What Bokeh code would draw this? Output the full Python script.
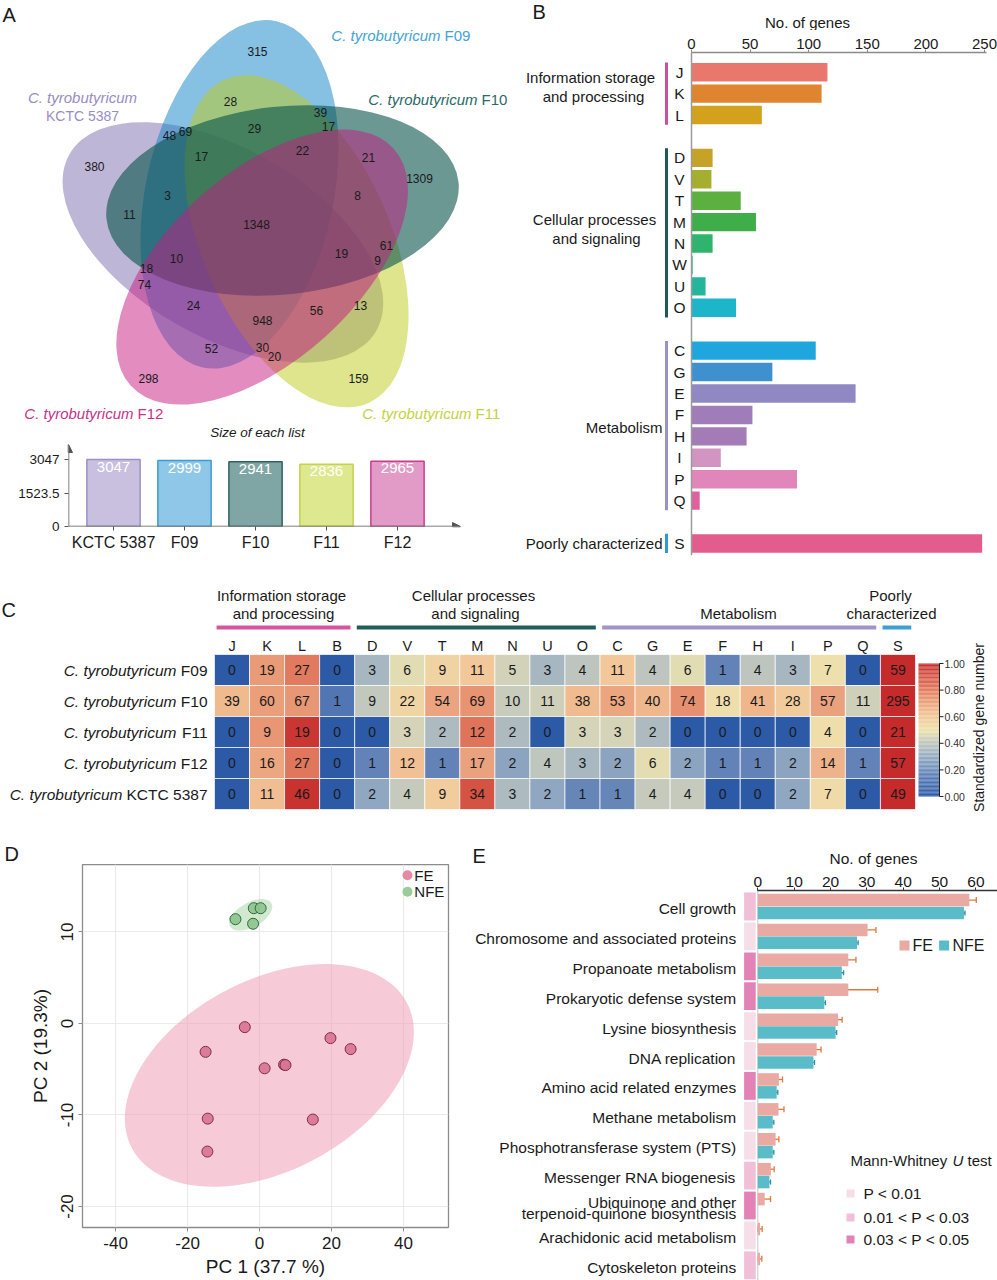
import numpy as np
from bokeh.plotting import figure
from bokeh.models import (Range1d, FixedTicker, ColumnDataSource, Whisker,
                          TeeHead, Arrow, NormalHead, LinearColorMapper)
from bokeh.layouts import column, row
from bokeh.core.properties import value
from bokeh.embed import file_html
from bokeh.resources import INLINE

FONT = "Liberation Sans"
F = value(FONT)
TXT = "#1a1a1a"

# ======================= DATA =======================
# A: Venn diagram region counts
venn_counts = [315, 28, 39, 17, 48, 69, 29, 17, 22, 21, 380, 1309, 3, 8, 11, 1348,
               61, 19, 9, 10, 18, 74, 24, 56, 13, 948, 52, 30, 20, 298, 159]
venn_sets = ["F10", "F11", "F12", "KCTC 5387", "F09"]
list_names = ["KCTC 5387", "F09", "F10", "F11", "F12"]
list_sizes = [3047, 2999, 2941, 2836, 2965]

# B: COG categories
cog_letters = ["J", "K", "L", "D", "V", "T", "M", "N", "W", "U", "O",
               "C", "G", "E", "F", "H", "I", "P", "Q", "S"]
cog_group_of = ["info"] * 3 + ["cell"] * 8 + ["met"] * 8 + ["poor"]
cog_counts = [116, 111, 60, 18, 17, 42, 55, 18, 1, 12, 38,
              106, 69, 140, 52, 47, 25, 90, 7, 248]

# C: heatmap
heat_cols = ["J", "K", "L", "B", "D", "V", "T", "M", "N", "U", "O",
             "C", "G", "E", "F", "H", "I", "P", "Q", "S"]
heat_col_group = ["info"] * 4 + ["cell"] * 7 + ["met"] * 8 + ["poor"]
heat_strains = ["F09", "F10", "F11", "F12", "KCTC 5387"]
heat_F09 = [0, 19, 27, 0, 3, 6, 9, 11, 5, 3, 4, 11, 4, 6, 1, 4, 3, 7, 0, 59]
heat_F10 = [39, 60, 67, 1, 9, 22, 54, 69, 10, 11, 38, 53, 40, 74, 18, 41, 28, 57, 11, 295]
heat_F11 = [0, 9, 19, 0, 0, 3, 2, 12, 2, 0, 3, 3, 2, 0, 0, 0, 0, 4, 0, 21]
heat_F12 = [0, 16, 27, 0, 1, 12, 1, 17, 2, 4, 3, 2, 6, 2, 1, 1, 2, 14, 1, 57]
heat_KCTC = [0, 11, 46, 0, 2, 4, 9, 34, 3, 2, 1, 1, 4, 4, 0, 0, 2, 7, 0, 49]

# D: PCA
pca_fe_pc1 = [-4.1, -15.0, 1.4, 6.8, 7.2, 19.7, 25.3, -14.4, -14.5, 14.8]
pca_fe_pc2 = [-0.4, -3.1, -4.9, -4.5, -4.55, -1.6, -2.8, -10.4, -14.0, -10.5]
pca_nfe_pc1 = [-6.7, -1.6, 0.3, -1.8]
pca_nfe_pc2 = [11.4, 12.6, 12.6, 10.9]
pca_xticks = [-40, -20, 0, 20, 40]
pca_yticks = [-20, -10, 0, 10]

# E: pathways
path_names = ["Cell growth", "Chromosome and associated proteins", "Propanoate metabolism",
              "Prokaryotic defense system", "Lysine biosynthesis", "DNA replication",
              "Amino acid related enzymes", "Methane metabolism",
              "Phosphotransferase system (PTS)", "Messenger RNA biogenesis",
              "Ubiquinone and other\nterpenoid-quinone biosynthesis",
              "Arachidonic acid metabolism", "Cytoskeleton proteins"]
path_fe = [58.2, 30.2, 24.9, 24.9, 22.1, 16.2, 5.8, 5.7, 4.9, 3.6, 1.9, 0.6, 0.6]
path_fe_err = [1.9, 2.3, 2.1, 8.1, 1.1, 1.2, 1.0, 1.5, 0.9, 0.9, 1.6, 0.6, 0.5]
path_nfe = [56.7, 27.3, 23.1, 18.3, 21.4, 15.3, 5.2, 4.1, 4.1, 3.2, 0.0, 0.0, 0.0]
path_nfe_err = [0.3, 0.3, 0.5, 0.3, 0.3, 0.3, 0.3, 0.3, 0.3, 0.3, 0.0, 0.0, 0.0]
path_sig = [2, 1, 3, 3, 1, 1, 3, 1, 1, 2, 3, 1, 2]
sig_labels = ["P < 0.01", "0.01 < P < 0.03", "0.03 < P < 0.05"]


def base_fig(w, h, xr, yr, **kw):
    p = figure(width=w, height=h, x_range=xr, y_range=yr, output_backend="svg",
               toolbar_location=None, **kw)
    p.grid.visible = False
    p.outline_line_color = None
    p.background_fill_color = "white"
    p.border_fill_color = "white"
    return p


def pix_fig(w, h):
    """glyph-only strip whose data units are pixels (y downward)"""
    return base_fig(w, h, Range1d(0, w), Range1d(h, 0), x_axis_location=None,
                    y_axis_location=None, min_border=0)


def style_axis(ax, size):
    ax.major_label_text_font = FONT
    ax.major_label_text_font_size = size
    ax.major_label_text_color = TXT
    ax.minor_tick_line_color = None
    ax.major_tick_in = 0
    ax.major_tick_out = 4


def put(fig, x, y, t, size, align="left", style="normal", color=TXT, baseline="middle",
        angle=0.0):
    fig.text(x=[x], y=[y], text=[t], text_align=align, text_baseline=baseline,
             text_font=F, text_font_size=size, text_font_style=style, text_color=color,
             angle=angle)


# ======================= PANEL A: VENN =======================
VW, VH = 510, 442
venn = base_fig(VW, VH, Range1d(0, VW), Range1d(0, VH),
                x_axis_location=None, y_axis_location=None, min_border=0)


def vy(y):
    return VH - y


vc_x, vc_y, v_r, v_a, v_b = 261.0, 230.0, 36.6, 177.0, 94.0
venn_fill = {"F10": "#08534B", "F11": "#BDCB19", "F12": "#C51A82",
             "KCTC 5387": "#7D6DAD", "F09": "#0D81C5"}
venn_alpha = {"F10": 0.6, "F11": 0.5, "F12": 0.5, "KCTC 5387": 0.5, "F09": 0.5}
venn_nudge = {"F10": (0, 0), "F11": (0, 0), "F12": (0, 0), "KCTC 5387": (-4, 0),
              "F09": (0, -7)}
ex, ey, ea, ec, eal = [], [], [], [], []
for i, name in enumerate(venn_sets):
    phi = np.radians(55 - 72 * i)
    th = np.radians(6 - 72 * i)
    ex.append(vc_x + v_r * np.cos(phi) + venn_nudge[name][0])
    ey.append(vy(vc_y - v_r * np.sin(phi) + venn_nudge[name][1]))
    ea.append(th)
    ec.append(venn_fill[name])
    eal.append(venn_alpha[name])
order = [3, 4, 1, 0, 2]   # KCTC, F09, F11, F10, F12 (bottom to top)
venn.ellipse(x=[ex[i] for i in order], y=[ey[i] for i in order],
             width=2 * v_a, height=2 * v_b, angle=[ea[i] for i in order],
             fill_color=[ec[i] for i in order], fill_alpha=[eal[i] for i in order],
             line_color=None)

venn_pos = [(257, 51), (230, 101), (320, 112), (328, 126), (169, 135), (185, 131), (254, 128),
            (201, 156), (302, 150), (368, 157), (94, 166), (419, 178), (167, 195), (357, 195),
            (129, 214), (256, 224), (386, 245), (341, 253), (377, 260), (176, 258), (146, 268),
            (144, 284), (193, 305), (316, 310), (360, 305), (262, 320), (211, 348), (262, 347),
            (274, 356), (148, 378), (358, 378)]
venn.text(x=[p[0] for p in venn_pos], y=[vy(p[1]) for p in venn_pos],
          text=[str(c) for c in venn_counts], text_align="center", text_baseline="middle",
          text_font=F, text_font_size="12px", text_color=TXT)


def two_part(fig, xs, y, prefix, suffix, color, size, gap):
    put(fig, xs, y, prefix, size, align="right", style="italic", color=color)
    put(fig, xs + gap, y, suffix, size, align="left", color=color)


two_part(venn, 440, vy(35), "C. tyrobutyricum", "F09", "#45A3D5", "15px", 4)
two_part(venn, 477, vy(99), "C. tyrobutyricum", "F10", "#2B6A66", "15px", 4)
two_part(venn, 133, vy(413), "C. tyrobutyricum", "F12", "#C7338A", "15px", 4)
two_part(venn, 471, vy(413), "C. tyrobutyricum", "F11", "#C5D23C", "15px", 4)
put(venn, 82, vy(97), "C. tyrobutyricum", "15px", align="center", style="italic",
    color="#998DC4")
put(venn, 82, vy(115), "KCTC 5387", "14px", align="center", color="#998DC4")
put(venn, 2, vy(14), "A", "20px")
put(venn, 257, vy(432), "Size of each list", "13.5px", align="center", style="italic")

# ======================= PANEL A: LIST SIZES =======================
BW, BH = 510, 580 - VH
b_ml, b_mr, b_mt, b_mb = 68, 40, 0, 54
b_step = 71.0
b_first = 113 - 68
bxr = Range1d(-b_first / b_step, (BW - b_ml - b_mr - b_first) / b_step)
b_ppu = 67.0 / 3047.0
byr = Range1d(0, (BH - b_mt - b_mb) / b_ppu)
bars = base_fig(BW, BH, bxr, byr, min_border_left=b_ml, min_border_right=b_mr,
                min_border_top=b_mt, min_border_bottom=b_mb)
bar_fill = ["#C9C0DF", "#8FC7E8", "#7FA6A5", "#DEE88F", "#E29BC7"]
bar_line = ["#9B90C6", "#3C9BD1", "#2F6360", "#C5D24B", "#C83D8E"]
bx = list(range(len(list_sizes)))
bars.vbar(x=bx, top=list_sizes, width=0.75, fill_color=bar_fill, line_color=bar_line,
          line_width=1.5)
bars.text(x=bx, y=list_sizes, text=[str(v) for v in list_sizes], text_align="center",
          text_baseline="top", y_offset=2, text_font=F, text_font_size="15px",
          text_color="white")
style_axis(bars.xaxis[0], "16px")
style_axis(bars.yaxis[0], "13.5px")
bars.xaxis.ticker = FixedTicker(ticks=bx)
bars.xaxis.major_label_overrides = {i: n for i, n in enumerate(list_names)}
bars.yaxis.ticker = FixedTicker(ticks=[0, 1523.5, 3047])
bars.xaxis.axis_line_color = None
bars.yaxis.axis_line_color = None
bars.xaxis.major_tick_line_color = "#555555"
bars.yaxis.major_tick_line_color = "#555555"
bars.xaxis.major_label_standoff = 3
ax_col = "#555555"
bars.add_layout(Arrow(end=NormalHead(size=8, fill_color=ax_col, line_color=ax_col),
                      x_start=bxr.start, y_start=0, x_end=bxr.start + 392 / b_step, y_end=0,
                      line_color=ax_col, line_width=1.5))
bars.add_layout(Arrow(end=NormalHead(size=8, fill_color=ax_col, line_color=ax_col),
                      x_start=bxr.start, y_start=0, x_end=bxr.start, y_end=byr.end - 2 / b_ppu,
                      line_color=ax_col, line_width=1.5))

# ======================= PANEL B =======================
PBW = 487
kB, x0B = 1.172, 181.0
slot0B, slotB = 71.7, 21.42
B_top_ref, B_hdr = 52, 30


def dxB(px):
    return (px - x0B) / kB


def dyB(py):
    return (py - slot0B) / slotB


pBh = pix_fig(PBW, B_hdr)
put(pBh, 22, 11, "B", "20px")
put(pBh, 297, 22, "No. of genes", "15px", align="center")

pB = base_fig(PBW, 580 - B_hdr, Range1d(dxB(0), dxB(PBW)), Range1d(dyB(580), dyB(B_top_ref)),
              x_axis_location="above", y_axis_location=None,
              min_border_top=B_top_ref - B_hdr, min_border_left=0, min_border_right=0,
              min_border_bottom=0)
slots = []
s, prev = 0, None
for g in cog_group_of:
    if prev is not None and g != prev:
        s += 1
    slots.append(s)
    s += 1
    prev = g
cog_colors = ["#E9776C", "#E0852F", "#D3A11C", "#C5A326", "#A5AE2F", "#5CB040", "#3FAE4A",
              "#2EB46C", "#29B594", "#25B59C", "#1DB5C9", "#20A6DF", "#3E90CF", "#8F88C2",
              "#A07DB8", "#A37BB6", "#D294C1", "#E086BB", "#E0619F", "#E35C8E"]
pB.hbar(y=slots, left=0, right=cog_counts, height=0.86, fill_color=cog_colors, line_color=None)
pB.segment(x0=[0], y0=[-0.93], x1=[0], y1=[22.55], line_color="#9A9A9A", line_width=1.5)
style_axis(pB.xaxis[0], "15px")
pB.xaxis.ticker = FixedTicker(ticks=[0, 50, 100, 150, 200, 250])
pB.xaxis.bounds = (0, 252)
pB.xaxis.axis_line_color = "#8A8A8A"
pB.xaxis.axis_line_width = 1.5
pB.xaxis.major_tick_line_color = "#8A8A8A"
pB.xaxis.major_tick_out = 3
pB.xaxis.major_label_standoff = 1
pB.text(x=[dxB(169)] * len(slots), y=slots, text=cog_letters, text_align="center",
        text_baseline="middle", text_font=F, text_font_size="15.5px", text_color=TXT)
grp_col_B = {"info": "#C8509E", "cell": "#1D5C56", "met": "#9A91C6", "poor": "#2D9AD2"}
for g in ["info", "cell", "met", "poor"]:
    ss = [slots[i] for i in range(len(slots)) if cog_group_of[i] == g]
    pB.segment(x0=[dxB(156)], y0=[min(ss) - 0.45], x1=[dxB(156)], y1=[max(ss) + 0.45],
               line_color=grp_col_B[g], line_width=3)
glab = [("Information storage", 80, 0.25, "center"), ("and processing", 83, 1.14, "center"),
        ("Cellular processes", 84, 6.88, "center"), ("and signaling", 86, 7.76, "center"),
        ("Metabolism", 152, 16.58, "right"), ("Poorly characterized", 152, 22.0, "right")]
for t, px, sl, al in glab:
    put(pB, dxB(px), sl, t, "15px", align=al)

# ======================= PANEL C: HEATMAP =======================
PCW, PCH = 997, 260


def dxC(px):
    return (px - 231.5) / 35.05


def dyC(py):
    return (py - 89.5) / 31.0


pC = base_fig(PCW, PCH, Range1d(dxC(0), dxC(PCW)), Range1d(dyC(PCH), dyC(0)),
              x_axis_location=None, y_axis_location=None, min_border=0)

anchors = [(0.0, "#2C5AA6"), (0.15, "#5B7DB6"), (0.30, "#98AEC3"), (0.42, "#C8CCBD"),
           (0.50, "#EEE3AE"), (0.62, "#F2C497"), (0.78, "#E5896A"), (0.90, "#D75746"),
           (1.0, "#C52B2B")]


def _rgb(h):
    return np.array([int(h[i:i + 2], 16) for i in (1, 3, 5)], dtype=float)


def _interp(v):
    for (v0, c0), (v1, c1) in zip(anchors[:-1], anchors[1:]):
        if v <= v1:
            t = (v - v0) / (v1 - v0)
            c = _rgb(c0) * (1 - t) + _rgb(c1) * t
            return "#%02x%02x%02x" % tuple(int(round(x)) for x in c)
    return anchors[-1][1]


palette = [_interp(i / 255) for i in range(256)]
mapper = LinearColorMapper(palette=palette, low=0, high=1)

heat_rows = [heat_F09, heat_F10, heat_F11, heat_F12, heat_KCTC]
hx, hy, ht, hs = [], [], [], []
for r, vals in enumerate(heat_rows):
    m = np.log1p(max(vals))
    for i, v in enumerate(vals):
        hx.append(i)
        hy.append(r)
        ht.append(str(v))
        hs.append(float(np.log1p(v) / m))
srcC = ColumnDataSource(dict(x=hx, y=hy, t=ht, s=hs))
pC.rect(x="x", y="y", width=1, height=1, source=srcC,
        fill_color={"field": "s", "transform": mapper}, line_color="white", line_width=1,
        line_alpha=0.7)
pC.text(x="x", y="y", text="t", source=srcC, text_align="center", text_baseline="middle",
        text_font=F, text_font_size="14px", text_color=TXT)
pC.text(x=list(range(len(heat_cols))), y=[dyC(65)] * len(heat_cols), text=heat_cols,
        text_align="center", text_baseline="middle", text_font=F, text_font_size="14.5px",
        text_color=TXT)
grp_col_C = {"info": "#D9559B", "cell": "#1F5E5B", "met": "#A093CB", "poor": "#3CA0D6"}
for g in ["info", "cell", "met", "poor"]:
    cc = [i for i in range(len(heat_cols)) if heat_col_group[i] == g]
    pC.segment(x0=[min(cc) - 0.44], y0=[dyC(47)], x1=[max(cc) + 0.38], y1=[dyC(47)],
               line_color=grp_col_C[g], line_width=4)
hdr = [("Information storage", 281, 15), ("and processing", 283, 33),
       ("Cellular processes", 473, 15), ("and signaling", 475, 33),
       ("Metabolism", 738, 33), ("Poorly", 890, 15), ("characterized", 891, 33)]
for t, px, py in hdr:
    put(pC, dxC(px), dyC(py), t, "15px", align="center")
suffix_w = {"F09": 31, "F10": 31, "F11": 31, "F12": 31, "KCTC 5387": 85}
for r, sname in enumerate(heat_strains):
    put(pC, dxC(207), r, sname, "15.5px", align="right")
    pC.text(x=[dxC(207)], y=[r], text=["C. tyrobutyricum"], text_align="right",
            text_baseline="middle", x_offset=-suffix_w[sname], text_font=F,
            text_font_size="15.5px", text_font_style="italic", text_color=TXT)
# colour bar
cb_x0, cb_x1 = dxC(918), dxC(939)
cb_y0, cb_y1 = dyC(216), dyC(83)
steps = np.linspace(0, 1, 101)
cb_v = ((steps[:-1] + steps[1:]) / 2).tolist()
cbsrc = ColumnDataSource(dict(
    v=cb_v,
    b=[cb_y0 + (cb_y1 - cb_y0) * a for a in steps[:-1]],
    t=[cb_y0 + (cb_y1 - cb_y0) * a for a in steps[1:]]))
pC.quad(left=cb_x0, right=cb_x1, bottom="b", top="t", source=cbsrc,
        fill_color={"field": "v", "transform": mapper}, line_color=None)
pC.segment(x0=[cb_x1], y0=[cb_y0], x1=[cb_x1], y1=[cb_y1], line_color="#222222", line_width=1)
cb_ticks = [0.0, 0.2, 0.4, 0.6, 0.8, 1.0]
cb_ty = [cb_y0 + (cb_y1 - cb_y0) * v for v in cb_ticks]
pC.segment(x0=[cb_x1] * 6, y0=cb_ty, x1=[cb_x1 + 4 / 35.05] * 6, y1=cb_ty,
           line_color="#222222", line_width=1)
pC.text(x=[cb_x1 + 5 / 35.05] * 6, y=cb_ty, text=["%.2f" % v for v in cb_ticks],
        text_align="left", text_baseline="middle", text_font=F, text_font_size="10.5px",
        text_color="#333333")
put(pC, dxC(978), dyC(147), "Standardized gene number", "14px", align="center",
    angle=np.pi / 2)
put(pC, dxC(1), dyC(29), "C", "20px")

# ======================= PANEL D: PCA =======================
PDW, D_hdr = 460, 24
pDh = pix_fig(PDW, D_hdr)
put(pDh, 4, 13, "D", "20px")

d_top_px = 840 + D_hdr
pD = figure(width=PDW, height=1280 - d_top_px,
            x_range=Range1d(-49.2, 52.5),
            y_range=Range1d(-22.3, (1023 - d_top_px) / 9.15),
            output_backend="svg", toolbar_location=None, min_border_left=82,
            min_border_right=12, min_border_top=0, min_border_bottom=53)
pD.background_fill_color = "white"
pD.border_fill_color = "white"
pD.outline_line_color = "#8C8C8C"
pD.outline_line_width = 1.3
pD.xgrid.ticker = FixedTicker(ticks=pca_xticks)
pD.ygrid.ticker = FixedTicker(ticks=pca_yticks)
pD.grid.grid_line_color = "#EAEAEA"
pD.grid.grid_line_width = 1.2
for ax in (pD.xaxis[0], pD.yaxis[0]):
    style_axis(ax, "17px")
    ax.axis_line_color = None
    ax.major_tick_line_color = "#8C8C8C"
    ax.axis_label_text_font = FONT
    ax.axis_label_text_font_size = "19px"
    ax.axis_label_text_font_style = "normal"
    ax.axis_label_text_color = TXT
pD.xaxis.ticker = FixedTicker(ticks=pca_xticks)
pD.yaxis.ticker = FixedTicker(ticks=pca_yticks)
pD.xaxis.major_label_overrides = {t: str(t) for t in pca_xticks}
pD.yaxis.major_label_overrides = {t: str(t) for t in pca_yticks}
pD.yaxis.major_label_orientation = "vertical"
pD.xaxis.axis_label = "PC 1 (37.7 %)"
pD.yaxis.axis_label = "PC 2 (19.3%)"
pD.xaxis.axis_label_standoff = 4
pD.yaxis.axis_label_standoff = 8


def conf_ellipse(xv, yv, c, n=160):
    xv, yv = np.asarray(xv, float), np.asarray(yv, float)
    L = np.linalg.cholesky(np.cov(xv, yv))
    t = np.linspace(0, 2 * np.pi, n)
    pts = L @ np.vstack([np.cos(t), np.sin(t)]) * c
    return (xv.mean() + pts[0]).tolist(), (yv.mean() + pts[1]).tolist()


ex1, ey1 = conf_ellipse(pca_fe_pc1, pca_fe_pc2, 2.74)
ex2, ey2 = conf_ellipse(pca_nfe_pc1, pca_nfe_pc2, 2.0)
pD.patch(ex1, ey1, fill_color="#EE9FB4", fill_alpha=0.55, line_color=None)
pD.patch(ex2, ey2, fill_color="#A9D7A9", fill_alpha=0.55, line_color=None)
pD.scatter(pca_fe_pc1, pca_fe_pc2, size=11, fill_color="#D97391", fill_alpha=0.9,
           line_color="#7A2E48", line_width=1)
pD.scatter(pca_nfe_pc1, pca_nfe_pc2, size=11, fill_color="#8CC48F", fill_alpha=0.9,
           line_color="#2F6B3A", line_width=1)
pD.scatter([41.1, 41.1], [16.2, 14.4], size=10, fill_color=["#E58AA5", "#9ACD9A"],
           line_color=None)
pD.text(x=[43.0, 43.0], y=[16.2, 14.4], text=["FE", "NFE"], text_align="left",
        text_baseline="middle", text_font=F, text_font_size="15px", text_color=TXT)

# ======================= PANEL E =======================
PEW, E_hdr = 537, 30
kE, x0E = 3.635, 297.3
row0E, slotE = 906.0, 29.9
E_top_ref = 890


def dxE(px):
    return (px - x0E) / kE


def dyE(py):
    return (py - row0E) / slotE


pEh = pix_fig(PEW, E_hdr)
put(pEh, 12, 15, "E", "20px")
put(pEh, 413, 18, "No. of genes", "15.5px", align="center")

pE = base_fig(PEW, 1280 - 840 - E_hdr, Range1d(dxE(0), dxE(PEW)),
              Range1d(dyE(1280), dyE(E_top_ref)),
              x_axis_location="above", y_axis_location=None,
              min_border_top=E_top_ref - 840 - E_hdr, min_border_left=0, min_border_right=0,
              min_border_bottom=0)
rowsE = np.arange(len(path_names))
sig_cols = {1: "#F6DEE8", 2: "#F1BFD7", 3: "#E282B7"}
pE.rect(x=[(dxE(283.6) + dxE(295.2)) / 2] * len(rowsE), y=rowsE,
        width=dxE(295.2) - dxE(283.6), height=0.93,
        fill_color=[sig_cols[s] for s in path_sig], line_color=None)
pE.segment(x0=[0], y0=[dyE(E_top_ref)], x1=[0], y1=[dyE(1280)], line_color="#C8C8C8",
           line_width=1)
pE.hbar(y=(rowsE - 0.215).tolist(), left=0, right=path_fe, height=0.42, fill_color="#E9AAA3",
        line_color=None)
pE.hbar(y=(rowsE + 0.215).tolist(), left=0, right=path_nfe, height=0.42, fill_color="#5BBCC9",
        line_color=None)
fe_idx = [i for i in range(len(path_fe)) if path_fe_err[i] > 0]
src_fe = ColumnDataSource(dict(base=[i - 0.215 for i in fe_idx],
                               lo=[path_fe[i] - path_fe_err[i] for i in fe_idx],
                               hi=[path_fe[i] + path_fe_err[i] for i in fe_idx]))
pE.add_layout(Whisker(source=src_fe, base="base", lower="lo", upper="hi", dimension="width",
                      line_color="#E0783A", line_width=1.3,
                      upper_head=TeeHead(size=6, line_color="#E0783A", line_width=1.3),
                      lower_head=TeeHead(size=6, line_color="#E0783A", line_width=1.3)))
nfe_idx = [i for i in range(len(path_nfe)) if path_nfe_err[i] > 0]
src_nfe = ColumnDataSource(dict(base=[i + 0.215 for i in nfe_idx],
                                lo=[path_nfe[i] - path_nfe_err[i] for i in nfe_idx],
                                hi=[path_nfe[i] + path_nfe_err[i] for i in nfe_idx]))
pE.add_layout(Whisker(source=src_nfe, base="base", lower="lo", upper="hi", dimension="width",
                      line_color="#2C8CA5", line_width=1.3,
                      upper_head=TeeHead(size=5, line_color="#2C8CA5", line_width=1.3),
                      lower_head=TeeHead(size=5, line_color="#2C8CA5", line_width=1.3)))
style_axis(pE.xaxis[0], "15.5px")
pE.xaxis.ticker = FixedTicker(ticks=[0, 10, 20, 30, 40, 50, 60])
pE.xaxis.bounds = (0, dxE(PEW))
pE.xaxis.axis_line_color = "#333333"
pE.xaxis.axis_line_width = 1.5
pE.xaxis.major_tick_line_color = "#333333"
pE.xaxis.major_tick_out = 3
pE.xaxis.major_label_standoff = 1
for i, name in enumerate(path_names):
    parts = name.split("\n")
    if len(parts) == 1:
        put(pE, dxE(275.7), i + 0.07, name, "15.5px", align="right")
    else:
        put(pE, dxE(275.7), i - 0.1, parts[0], "15.5px", align="right")
        put(pE, dxE(275.7), i + 0.27, parts[1], "15.5px", align="right")
# FE / NFE legend
pE.rect(x=[dxE(444), dxE(483.6)], y=[dyE(945)] * 2, width=10 / kE, height=10 / slotE,
        fill_color=["#E9AAA3", "#5BBCC9"], line_color=None)
put(pE, dxE(452), dyE(945), "FE", "16px")
put(pE, dxE(492), dyE(945), "NFE", "16px")
# significance legend
put(pE, dxE(390), dyE(1160), "Mann-Whitney", "15px")
put(pE, dxE(492), dyE(1160), "U", "15px", style="italic")
put(pE, dxE(507), dyE(1160), "test", "15px")
leg_y = [dyE(1193), dyE(1217), dyE(1239)]
pE.rect(x=[dxE(390)] * 3, y=leg_y, width=8 / kE, height=8 / slotE,
        fill_color=[sig_cols[1], sig_cols[2], sig_cols[3]], line_color=None)
pE.text(x=[dxE(403)] * 3, y=leg_y, text=sig_labels, text_align="left", text_baseline="middle",
        text_font=F, text_font_size="15.5px", text_color=TXT)

# ======================= LAYOUT =======================
col_A = column(row(venn), row(bars))
col_B = column(row(pBh), row(pB))
col_D = column(row(pDh), row(pD))
col_E = column(row(pEh), row(pE))
layout = column(row(col_A, col_B), row(pC), row(col_D, col_E))
open("out.html", "w").write(file_html(layout, INLINE, title="Figure"))
